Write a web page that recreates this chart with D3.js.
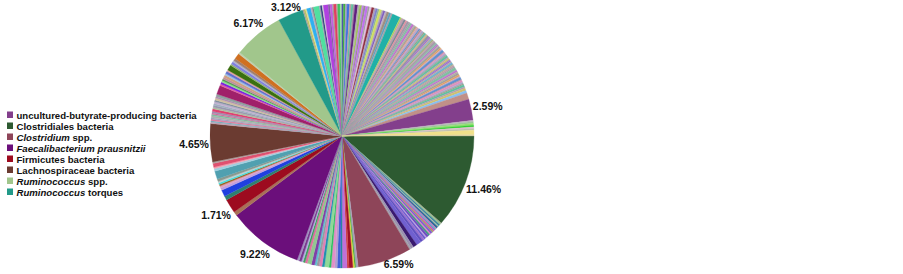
<!DOCTYPE html>
<html><head><meta charset="utf-8">
<script src="https://cdn.jsdelivr.net/npm/d3@7"></script>
<style>body{margin:0;background:#fff;} svg{display:block;}</style>
</head><body>
<svg id="chart" width="903" height="274"></svg>
<script>
// ---------- DATA ----------
const categories = [
  "uncultured-butyrate-producing bacteria",
  "Clostridiales bacteria",
  "Clostridium spp.",
  "Faecalibacterium prausnitzii",
  "Firmicutes bacteria",
  "Lachnospiraceae bacteria",
  "Ruminococcus spp.",
  "Ruminococcus torques"
];
const shares = [2.59, 11.46, 6.59, 9.22, 1.71, 4.65, 6.17, 3.12];

// unlabelled minor taxa, in pie order between the labelled ones
const minorA = [0.12,0.15,0.2,0.15,0.25,0.15,0.2,0.15,0.2,0.25,0.15,0.2,0.3,0.15,0.2,0.25,0.3,0.6,0.5,0.33,0.2];
const minorB = [0.3,0.15,0.2,0.45,0.25,0.6,0.2,0.4,0.3,0.45,0.25,0.55,0.3,0.35,0.3,0.25,0.4,0.5,0.3,0.25,0.2,0.3,0.25];
const minorC = [0.5];
const minorD = [0.5,0.8,0.3,0.25,0.2,0.2,0.2,0.3,1.0,0.3,0.2,0.45,0.2];
const minorE = [0.2,0.15,0.2,0.15,0.25,0.2,0.15,0.2,0.3,0.2,0.25,0.2,0.25,0.2,0.25,0.2,0.3,1.1,0.2,0.25,0.2,0.2,0.25,0.3,0.2,0.3,0.2,0.65,0.2,0.3,0.2,0.3,0.7,0.2];
const minorF1 = [0.15,0.2,0.15,0.5,0.2,0.15,0.7,0.15,0.2,0.15,0.6,0.2,0.3,0.15,0.35,0.15,0.3,0.2,0.2];
const minorF2 = [0.25,0.2,0.3,0.2,0.25,0.2,0.35,0.2,0.3,0.2,0.25,0.3,0.2,0.25,0.3,0.2,0.25,0.2,0.3,0.2,0.25,0.2,0.3,0.25,0.2,1.0,0.2,0.3,0.25,0.2,0.25];
const minorF3 = [0.15,0.2,0.1,0.25,0.15,0.2,0.1,0.3,0.15,0.2,
                 0.1,0.25,0.15,0.2,0.1,0.15,0.3,0.15,0.2,0.1,
                 0.2,0.15,0.25,0.1,0.2,0.15,0.1,0.25,0.2,0.15,
                 0.3,0.1,0.15,0.2,0.1,0.25,0.15,0.2,0.1,0.2,
                 0.15,0.25,0.1,0.2,0.15,0.3,0.1,0.2,0.15,0.25,
                 0.2,0.15,0.3,0.1,0.25,0.2,0.15,0.25,0.2,0.3];
const minorF4 = [0.3,0.8];
const minorG = [0.15,0.2,0.25,0.2,0.2,0.2,0.55,0.15];

// ---------- STYLES ----------
const majorColors = {
  "uncultured-butyrate-producing bacteria": "#833f8c",
  "Clostridiales bacteria": "#2d5a31",
  "Clostridium spp.": "#8e4559",
  "Faecalibacterium prausnitzii": "#6b0f7b",
  "Firmicutes bacteria": "#9d0b1f",
  "Lachnospiraceae bacteria": "#6b3b31",
  "Ruminococcus spp.": "#a1c68c",
  "Ruminococcus torques": "#229a89"
};
const colorsA = ["#9aa08a","#8fc48a","#3a7fa0","#a0c0a0","#2e6a9a","#c080c0","#60a0c0","#e040c0","#a0a060","#8060d0","#e080c0","#40a080","#7050c0","#c0a0e0","#6a5acd","#9a70d0","#6050c0","#7060d0","#3a1a70","#9a90b0","#a0a0a8"];
const colorsB = ["#a8a0b8","#40b040","#e0d040","#a01028","#d04040","#c070d8","#2a8a9a","#4060d8","#b0a0d0","#e090c8","#30c060","#90d898","#2090b0","#e080b8","#9a9aa0","#60c0d0","#8040a8","#90c890","#e070a0","#40a060","#b0b0e0","#7a3a90","#a090c0"];
const colorsC = ["#a87058"];
const colorsD = ["#2e8070","#2040e0","#c0a0e0","#e0a0c0","#a06020","#40e0e0","#c0d0d0","#8a9a90","#50a0b0","#a0d0e0","#f0a0b0","#e05070","#b0a0a0"];
const colorsE = ["#c0a0b0","#70b0c0","#e080a0","#a0a0c0","#b0b0b0","#80c0a0","#d070a0","#a090b0","#e04070","#b0c0a0","#9a9ab0","#a0b0c0","#c0b0d0","#8090a0","#d0c0a0","#b090b0","#90a0a0","#a0206a","#e060a0","#8020e0","#90e090","#50a050","#c090a0","#d0a080","#a0c0e0","#6070d0","#e0a0a0","#3a7010","#90b070","#8080e0","#b0b0d0","#a08070","#d07020","#c0d0b0"];
const colorsF1 = ["#a0a0a0","#c0c060","#e0e0a0","#30b0f0","#b0b0c0","#808080","#50e0a0","#a0a0b0","#304080","#d0d0d0","#b040e0","#8060a0","#c060e0","#a0a0a0","#e04060","#b0a0a0","#40c060","#a0e0a0","#5050b0"];
const colorsF2 = ["#40b040","#a0a0c0","#4070e0","#c0a0a0","#60c0a0","#a090a0","#602080","#b0b0b0","#a0c060","#c080f0","#9a9090","#c070f0","#a0a0a0","#e0c0e0","#903040","#b0a0b0","#8080d0","#90b0a0","#d0e060","#b0a8b0","#8060c0","#c0b0c0","#a09080","#60a0c0","#a8a0a8","#20b0a8","#b0d060","#c0a0b0","#808898","#e090a0","#a098a8"];
const paletteF3 = ["#a899a8","#80c0a0","#9aa0b0","#c070d0","#b8b0a0","#a0a0a0","#e0a060","#c8a8c0","#6090d0","#b09098","#e090c0","#a8a8c8","#98a088","#60c0a0","#b0a0b0","#d0c070","#9890a8","#a070d0","#b8a8a8","#70b0d0","#a0b080","#c0a0a8"];
const colorsF4 = ["#88c0f0","#c09088"];
const colorsG = ["#c0b0c0","#a0c0a0","#90e070","#30d030","#e0c0d0","#c0c0b0","#f0e08a","#d8d0a0"];

// ---------- BUILD SLICES ----------
const shareOf = name => shares[categories.indexOf(name)];
const major = name => [{name, value: shareOf(name), color: majorColors[name], label: true}];
const minor = (vals, cols, tag) => vals.map((v, i) => ({name: tag + i, value: v, color: cols[i % cols.length], label: false}));

const slices = [].concat(
  major("Clostridiales bacteria"), minor(minorA, colorsA, "a"),
  major("Clostridium spp."), minor(minorB, colorsB, "b"),
  major("Faecalibacterium prausnitzii"), minor(minorC, colorsC, "c"),
  major("Firmicutes bacteria"), minor(minorD, colorsD, "d"),
  major("Lachnospiraceae bacteria"), minor(minorE, colorsE, "e"),
  major("Ruminococcus spp."), major("Ruminococcus torques"),
  minor(minorF1, colorsF1, "f1"), minor(minorF2, colorsF2, "f2"),
  minor(minorF3, paletteF3, "f3"), minor(minorF4, colorsF4, "f4"),
  major("uncultured-butyrate-producing bacteria"), minor(minorG, colorsG, "g")
);

// ---------- DRAW ----------
const W = 903, H = 274;
const cx = 342, cy = 136, R = 132;
const svg = d3.select("#chart");
svg.append("rect").attr("width", W).attr("height", H).attr("fill", "#fff");

const pie = d3.pie().sort(null).value(d => d.value)
  .startAngle(Math.PI / 2).endAngle(Math.PI / 2 + 2 * Math.PI);
const arcs = pie(slices);
const arc = d3.arc().innerRadius(0).outerRadius(R);

const g = svg.append("g").attr("transform", `translate(${cx},${cy})`);
g.selectAll("path").data(arcs).join("path")
  .attr("d", arc)
  .attr("fill", d => d.data.color)
  .attr("stroke", d => d.data.color)
  .attr("stroke-width", 0.3);

// labels (outside end, kept inside the chart area)
const fmt = d3.format(".2f");
const labFont = "bold 10.5px 'Liberation Sans', Arial, sans-serif";
const lab = svg.append("g");
arcs.filter(d => d.data.label).forEach(d => {
  const t = lab.append("text")
    .style("font", labFont).attr("fill", "#111")
    .attr("text-anchor", "middle").attr("dominant-baseline", "central")
    .text(fmt(d.data.value) + "%");
  const w = t.node().getComputedTextLength(), h = 11;
  const th = (d.startAngle + d.endAngle) / 2;
  const s = Math.sin(th), c = -Math.cos(th);
  const off = R + 1 + Math.abs(s) * w / 2 + Math.abs(c) * h / 2;
  let x = cx + s * off, y = cy + c * off;
  const yc = Math.max(h / 2 + 1.5, Math.min(H - h / 2 - 4.5, y));
  // when pushed up from the bottom edge, slide sideways away from the pie
  if (y > yc) x += Math.sign(s) * (y - yc) * 1.4;
  t.attr("x", x).attr("y", yc);
});

// legend
const legFont = "bold 9.6px 'Liberation Sans', Arial, sans-serif";
const italicPart = {
  "Clostridium spp.": ["Clostridium", " spp."],
  "Faecalibacterium prausnitzii": ["Faecalibacterium prausnitzii", ""],
  "Ruminococcus spp.": ["Ruminococcus", " spp."],
  "Ruminococcus torques": ["Ruminococcus", " torques"]
};
const leg = svg.append("g");
categories.forEach((name, i) => {
  const yc = 115 + i * 11;
  leg.append("rect").attr("x", 7).attr("y", yc - 3.5).attr("width", 6).attr("height", 6.5)
    .attr("fill", majorColors[name]);
  const t = leg.append("text").attr("x", 16.5).attr("y", yc)
    .attr("dominant-baseline", "central").style("font", legFont).attr("fill", "#111");
  if (italicPart[name]) {
    const [it, rest] = italicPart[name];
    t.append("tspan").attr("font-style", "italic").text(it);
    if (rest) t.append("tspan").text(rest);
  } else {
    t.text(name);
  }
});
</script>
</body></html>
